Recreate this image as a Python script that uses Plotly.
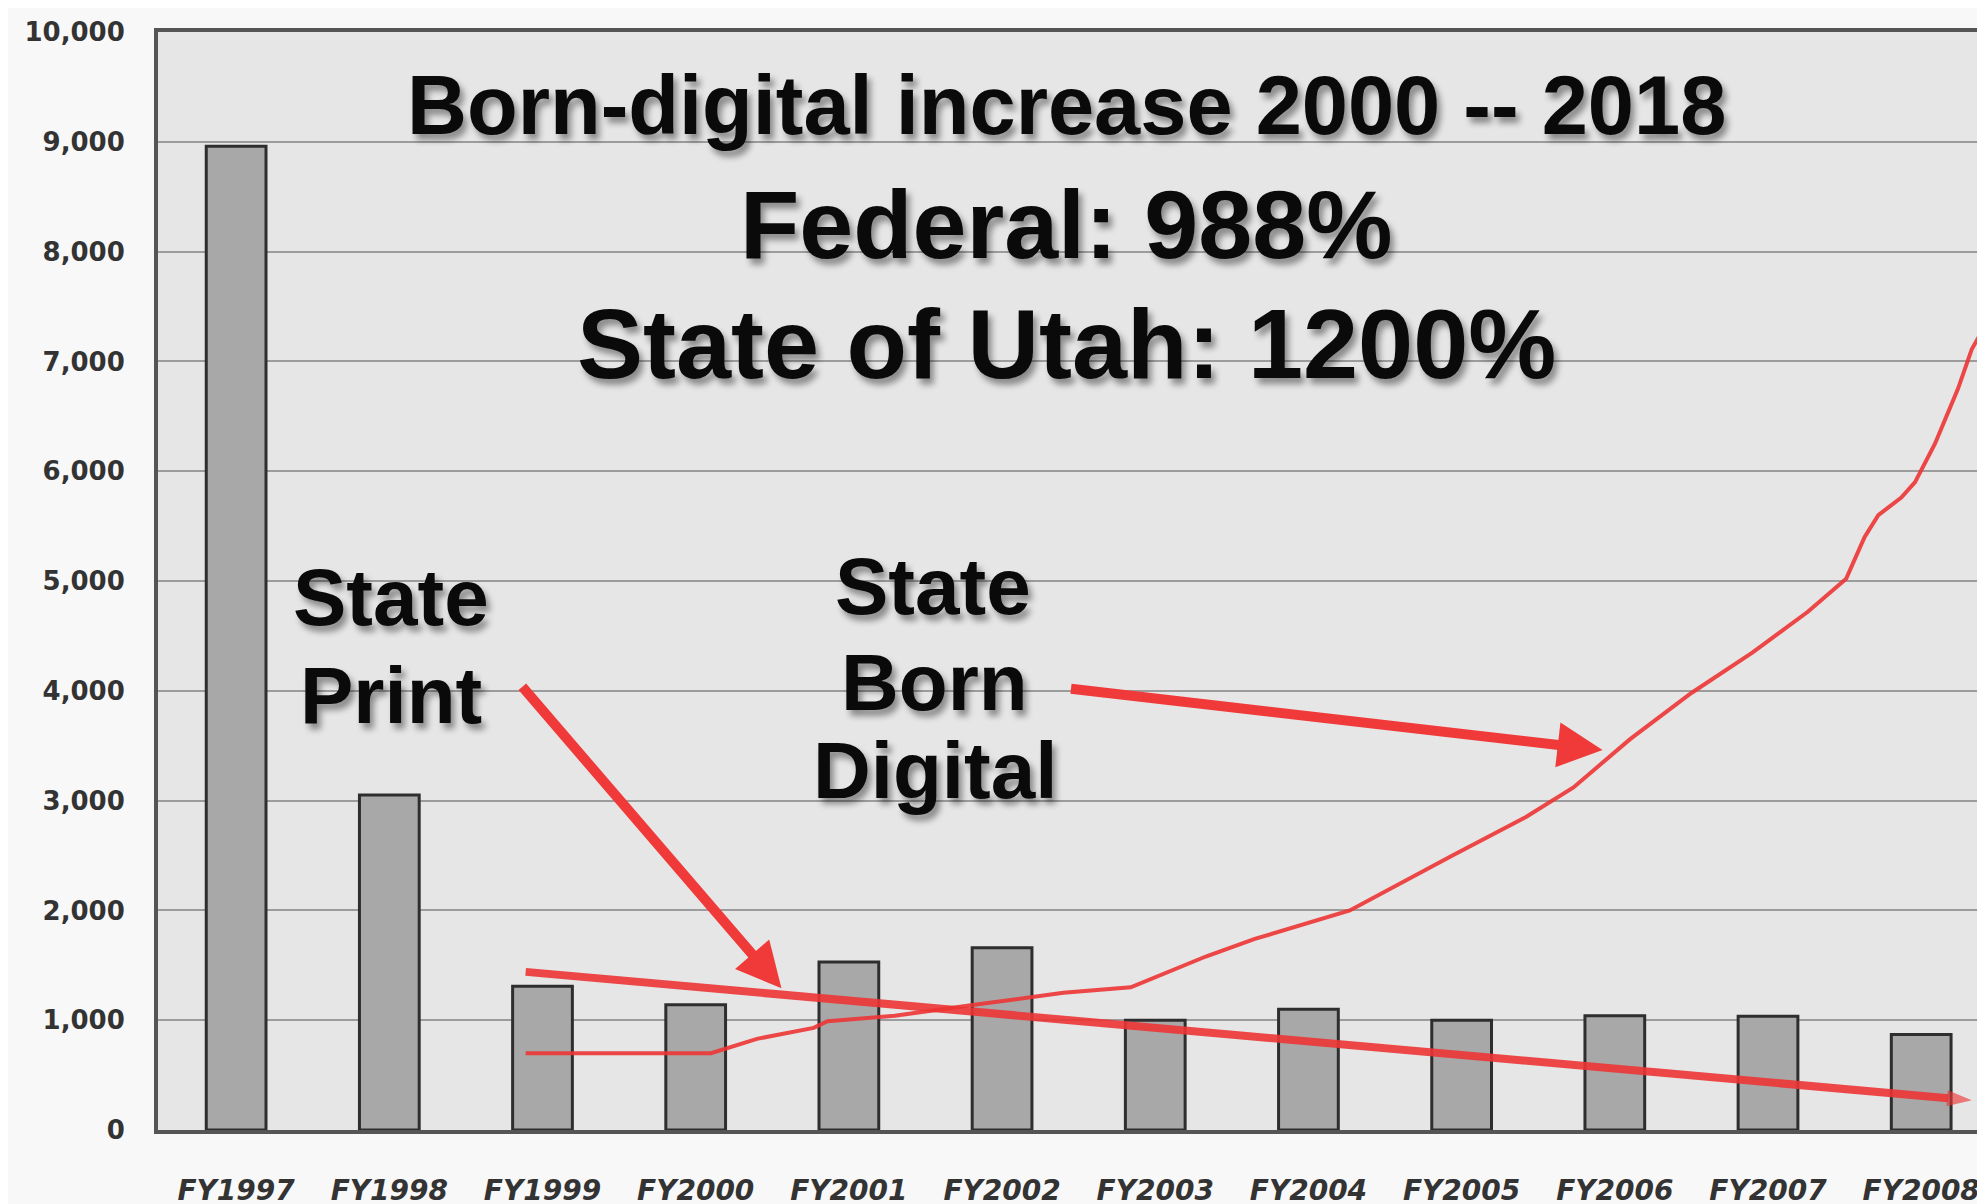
import plotly.graph_objects as go

# ---- data ----
fiscal_years = ["FY1997", "FY1998", "FY1999", "FY2000", "FY2001", "FY2002",
                "FY2003", "FY2004", "FY2005", "FY2006", "FY2007", "FY2008"]
year_pos = [1997, 1998, 1999, 2000, 2001, 2002, 2003, 2004, 2005, 2006, 2007, 2008]
bar_values = [8960, 3050, 1310, 1140, 1530, 1660, 1000, 1100, 1000, 1040, 1035, 870]

print_trend_x = [1998.89, 2008.33]
print_trend_y = [1440, 270]

digital_x = [1998.89, 2000.10, 2000.40, 2000.77, 2000.86, 2001.30, 2001.82, 2002.40,
             2002.84, 2003.33, 2003.65, 2004.27, 2004.94, 2005.42, 2005.73, 2006.10,
             2006.50, 2006.90, 2007.26, 2007.51, 2007.63, 2007.72, 2007.87, 2007.96,
             2008.09, 2008.24, 2008.33, 2008.44]
digital_y = [700, 700, 830, 930, 990, 1040, 1140, 1250,
             1300, 1580, 1740, 2000, 2500, 2850, 3120, 3560,
             3980, 4350, 4720, 5020, 5400, 5600, 5760, 5900,
             6250, 6750, 7110, 7380]

y_ticks = [0, 1000, 2000, 3000, 4000, 5000, 6000, 7000, 8000, 9000, 10000]
y_tick_text = ["0", "1,000", "2,000", "3,000", "4,000", "5,000", "6,000",
               "7,000", "8,000", "9,000", "10,000"]

RED = "rgba(236,52,52,0.9)"
SHADOW = "4px 6px 6px rgba(0,0,0,0.40)"

fig = go.Figure()
fig.add_trace(go.Bar(
    x=year_pos, y=bar_values, width=0.39,
    marker=dict(color="#a8a8a8", line=dict(color="#2e2e2e", width=3)),
    showlegend=False, hoverinfo="skip",
))
fig.add_trace(go.Scatter(
    x=print_trend_x, y=print_trend_y, mode="lines+markers",
    line=dict(color=RED, width=8),
    marker=dict(symbol="arrow", size=[0, 26], angleref="previous", color=RED,
                line=dict(width=0)),
    showlegend=False, hoverinfo="skip",
))
fig.add_trace(go.Scatter(
    x=digital_x, y=digital_y, mode="lines",
    line=dict(color=RED, width=4),
    showlegend=False, hoverinfo="skip",
))

TF = "Liberation Sans, Arial, sans-serif"

def txt(x, y, s, size):
    fig.add_annotation(x=x, y=y, xref="x", yref="y", text=s, showarrow=False,
                       xanchor="center", yanchor="middle",
                       font=dict(family=TF, size=size, color="#0a0a0a",
                                 weight="bold", shadow=SHADOW))

txt(2002.42, 9330, "Born-digital increase 2000 -- 2018", 83)
txt(2002.42, 8250, "Federal: 988%", 97)
txt(2002.42, 7160, "State of Utah: 1200%", 99)
txt(1998.01, 4850, "State", 80)
txt(1998.01, 3960, "Print", 80)
txt(2001.55, 4950, "State", 80)
txt(2001.56, 4080, "Born", 80)
txt(2001.56, 3270, "Digital", 80)

def arrow(x0, y0, x1, y1):
    fig.add_annotation(x=x1, y=y1, ax=x0, ay=y0, xref="x", yref="y",
                       axref="x", ayref="y", text="", showarrow=True,
                       arrowhead=2, arrowsize=0.9, arrowwidth=10,
                       arrowcolor="#f03a3a", standoff=0)

arrow(1998.86, 4050, 2000.56, 1290)
arrow(2002.44, 4020, 2005.92, 3460)

fig.update_layout(
    width=1985, height=1204,
    margin=dict(l=150, r=5, t=24, b=71),
    paper_bgcolor="#f8f8f8",
    plot_bgcolor="#e6e6e6",
    xaxis=dict(range=[1996.49, 2008.41], tickvals=year_pos, ticktext=fiscal_years,
               showgrid=False, zeroline=False, showline=True, mirror=True,
               linecolor="#555555", linewidth=4, ticks="",
               tickfont=dict(size=28, family="DejaVu Sans, sans-serif",
                             color="#333333", weight="bold", style="italic"),
               ticklabelstandoff=32),
    yaxis=dict(range=[0, 10000], tickvals=y_ticks, ticktext=y_tick_text,
               showgrid=True, gridcolor="#9c9c9c", gridwidth=2, zeroline=False,
               showline=True, mirror=True, linecolor="#555555", linewidth=4,
               ticks="", tickfont=dict(size=26, family="DejaVu Sans, sans-serif",
                                       color="#333333", weight="bold"),
               ticklabelstandoff=24),
)

fig.write_html("out.html")
